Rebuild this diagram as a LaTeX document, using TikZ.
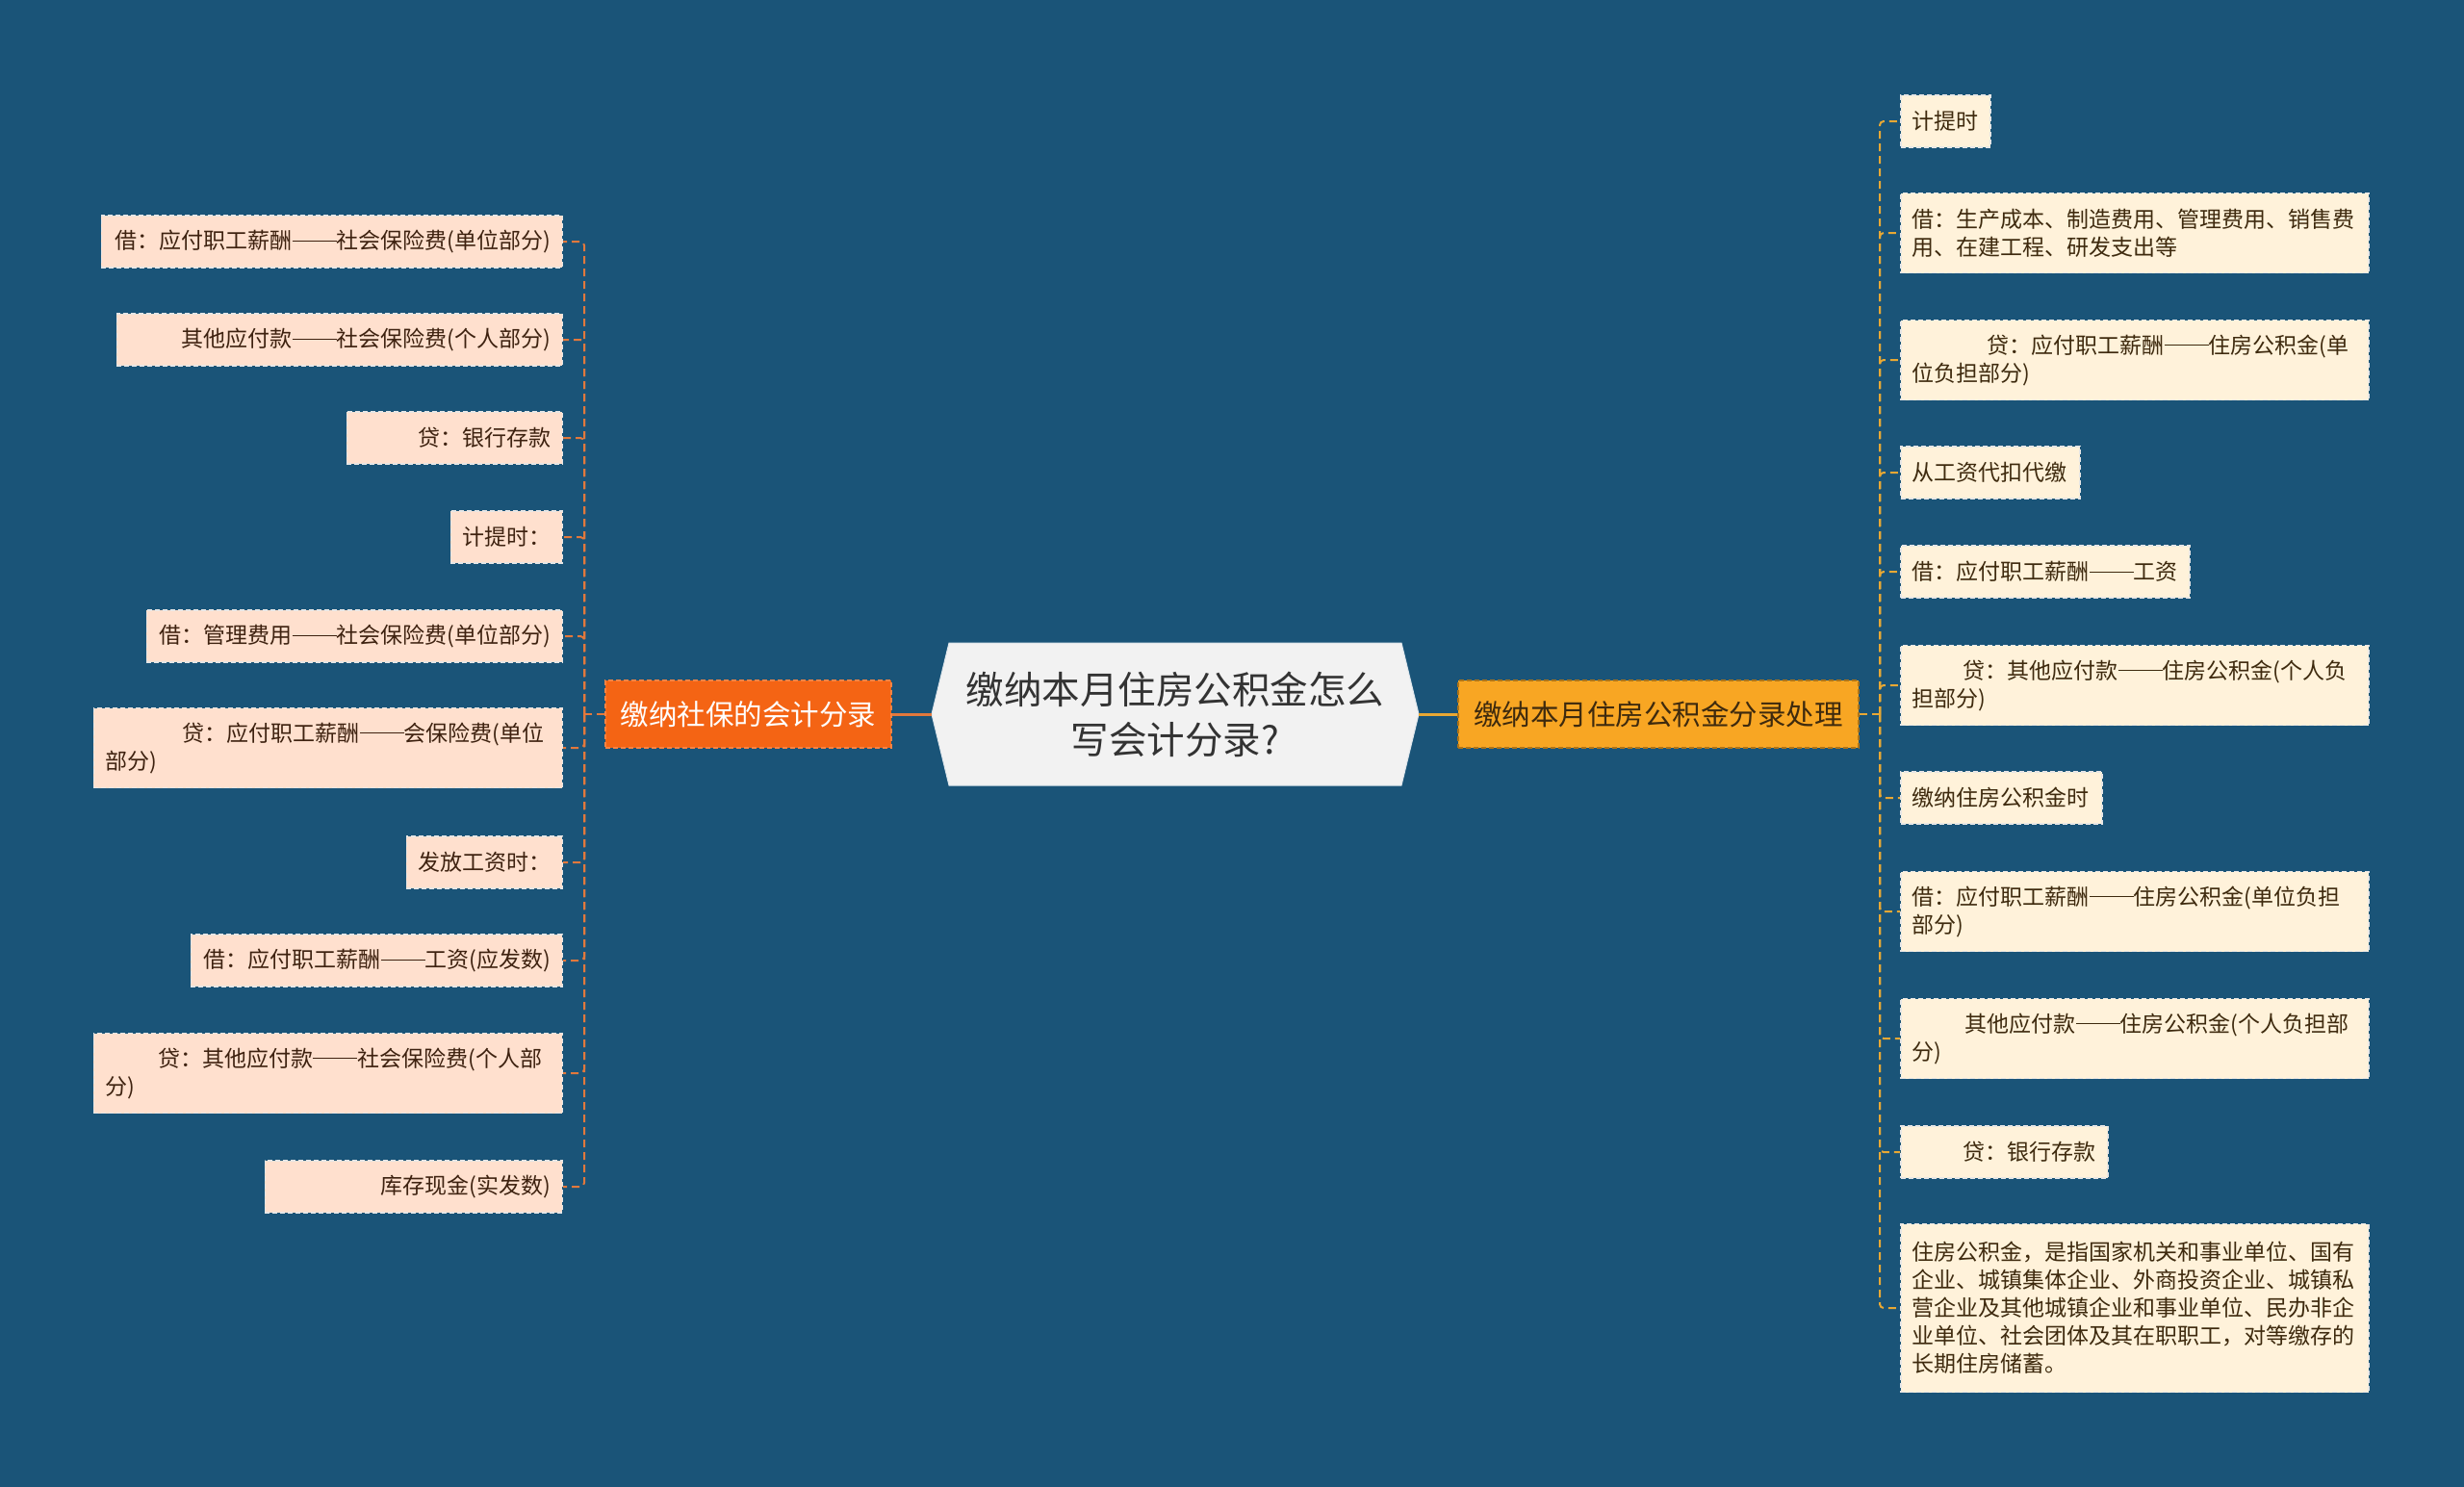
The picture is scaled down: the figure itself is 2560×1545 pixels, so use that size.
\documentclass[tikz,border=0pt]{standalone}
\usepackage{fontspec}
\setmainfont{Noto Sans CJK SC}
\definecolor{bg}{HTML}{1A5478}
\definecolor{lfill}{HTML}{FFE0CE}
\definecolor{rfill}{HTML}{FFF2DA}
\definecolor{ltext}{HTML}{3E2210}
\definecolor{rtext}{HTML}{3E2A0E}
\definecolor{leafline}{HTML}{E6E6E6}
\definecolor{lconnc}{HTML}{E2783C}
\definecolor{rconnc}{HTML}{E8A834}
\definecolor{lbrfill}{HTML}{F46414}
\definecolor{rbrfill}{HTML}{F8A623}
\definecolor{cfill}{HTML}{F2F2F2}
\definecolor{ctext}{HTML}{333333}
\newcommand\leaffont{\fontsize{23}{29}\selectfont}
\newcommand\brfont{\fontsize{29.5}{36}\selectfont}
\newcommand\centfont{\fontsize{39.5}{52}\selectfont}
\newcommand\dashtwo{\rule[0.33em]{2em}{0.06em}}
\tikzset{
 leafbase/.style={draw=leafline, line width=1.5pt, dash pattern=on 5pt off 3pt, inner xsep=12pt, inner ysep=6pt, font=\leaffont, minimum height=54pt},
 lleaf/.style={leafbase, fill=lfill, text=ltext, anchor=east, align=right},
 lleafm/.style={leafbase, fill=lfill, text=ltext, anchor=east, align=left, minimum height=83pt, text width=463pt},
 rleaf/.style={leafbase, fill=rfill, text=rtext, anchor=west, align=left},
 rleafm/.style={rleaf, text width=462pt, minimum height=83pt},
 lconn/.style={draw=lconnc, line width=2pt, dash pattern=on 8pt off 5pt, rounded corners=4pt},
 rconn/.style={draw=rconnc, line width=2pt, dash pattern=on 8pt off 5pt, rounded corners=4pt},
 lbr/.style={fill=lbrfill, draw=lbrfill!80!white, dash pattern=on 5pt off 3pt, line width=1.5pt, text=white, font=\brfont, minimum width=297pt, minimum height=70pt, inner sep=0pt},
 rbr/.style={fill=rbrfill, draw=rbrfill!70!black, dash pattern=on 5pt off 3pt, line width=1.5pt, text=rtext, font=\brfont, minimum width=416pt, minimum height=70pt, inner sep=0pt},
 lmain/.style={draw=lconnc, line width=3pt},
 rmain/.style={draw=rconnc, line width=3pt}
}
\begin{document}
\begin{tikzpicture}[x=1pt,y=-1pt]
\fill[bg] (0,0) rectangle (2560,1545);
\useasboundingbox (0,0) rectangle (2560,1545);

% central
\coordinate (cl) at (968,742);
\coordinate (cr) at (1474,742);
\filldraw[fill=cfill, draw=white!85!bg, line width=1pt] (cl) -- (986,668) -- (1456,668) -- (cr) -- (1456,816) -- (986,816) -- cycle;
\node[font=\centfont, text=ctext, align=center, inner sep=0pt] (c) at (1221,742) {缴纳本月住房公积金怎么\\写会计分录?};

% branches
\node[lbr] (lb) at (777.5,742) {缴纳社保的会计分录};
\node[rbr] (rb) at (1723,742) {缴纳本月住房公积金分录处理};
\draw[lmain] (cl) -- (lb.east);
\draw[rmain] (cr) -- (rb.west);

% left leaves
\node[lleaf, text width=455pt] (l1) at (585,251) {借：应付职工薪酬\dashtwo 社会保险费(单位部分)};
\node[lleaf, text width=439pt] (l2) at (585,353) {其他应付款\dashtwo 社会保险费(个人部分)};
\node[lleaf, text width=200pt] (l3) at (585,455) {贷：银行存款};
\node[lleaf, text width=92pt] (l4) at (585,558) {计提时：};
\node[lleaf, text width=408pt] (l5) at (585,661) {借：管理费用\dashtwo 社会保险费(单位部分)};
\node[lleafm] (l6) at (585,777) {\hspace*{3.5em}贷：应付职工薪酬\dashtwo 会保险费(单位\\部分)};
\node[lleaf, text width=138pt] (l7) at (585,896) {发放工资时：};
\node[lleaf, text width=362pt] (l8) at (585,998) {借：应付职工薪酬\dashtwo 工资(应发数)};
\node[lleafm] (l9) at (585,1115) {\hspace*{2.4em}贷：其他应付款\dashtwo 社会保险费(个人部\\分)};
\node[lleaf, text width=285pt] (l10) at (585,1233) {库存现金(实发数)};

\coordinate (lj) at (607,742);
\draw[lconn] (lb.west) -- (lj);
\foreach \n in {l1,l2,l3,l4,l5,l6,l7,l8,l9,l10}{
  \draw[lconn] (lj) |- (\n.east);
}

% right leaves
\node[rleaf, text width=69pt] (r1) at (1974,126) {计提时};
\node[rleafm] (r2) at (1974,242) {借：生产成本、制造费用、管理费用、销售费\\用、在建工程、研发支出等};
\node[rleafm] (r3) at (1974,374) {\hspace*{3.4em}贷：应付职工薪酬\dashtwo 住房公积金(单\\位负担部分)};
\node[rleaf, text width=162pt] (r4) at (1974,491) {从工资代扣代缴};
\node[rleaf, text width=276pt] (r5) at (1974,594) {借：应付职工薪酬\dashtwo 工资};
\node[rleafm] (r6) at (1974,712) {\hspace*{2.3em}贷：其他应付款\dashtwo 住房公积金(个人负\\担部分)};
\node[rleaf, text width=185pt] (r7) at (1974,829) {缴纳住房公积金时};
\node[rleafm] (r8) at (1974,947) {借：应付职工薪酬\dashtwo 住房公积金(单位负担\\部分)};
\node[rleafm] (r9) at (1974,1079) {\hspace*{2.4em}其他应付款\dashtwo 住房公积金(个人负担部\\分)};
\node[rleaf, text width=191pt] (r10) at (1974,1197) {\hspace*{2.3em}贷：银行存款};
\node[rleafm, minimum height=175pt] (r11) at (1974,1359) {住房公积金，是指国家机关和事业单位、国有\\企业、城镇集体企业、外商投资企业、城镇私\\营企业及其他城镇企业和事业单位、民办非企\\业单位、社会团体及其在职职工，对等缴存的\\长期住房储蓄。};

\coordinate (rj) at (1953,742);
\draw[rconn] (rb.east) -- (rj);
\foreach \n in {r1,r2,r3,r4,r5,r6,r7,r8,r9,r10,r11}{
  \draw[rconn] (rj) |- (\n.west);
}
\end{tikzpicture}
\end{document}
